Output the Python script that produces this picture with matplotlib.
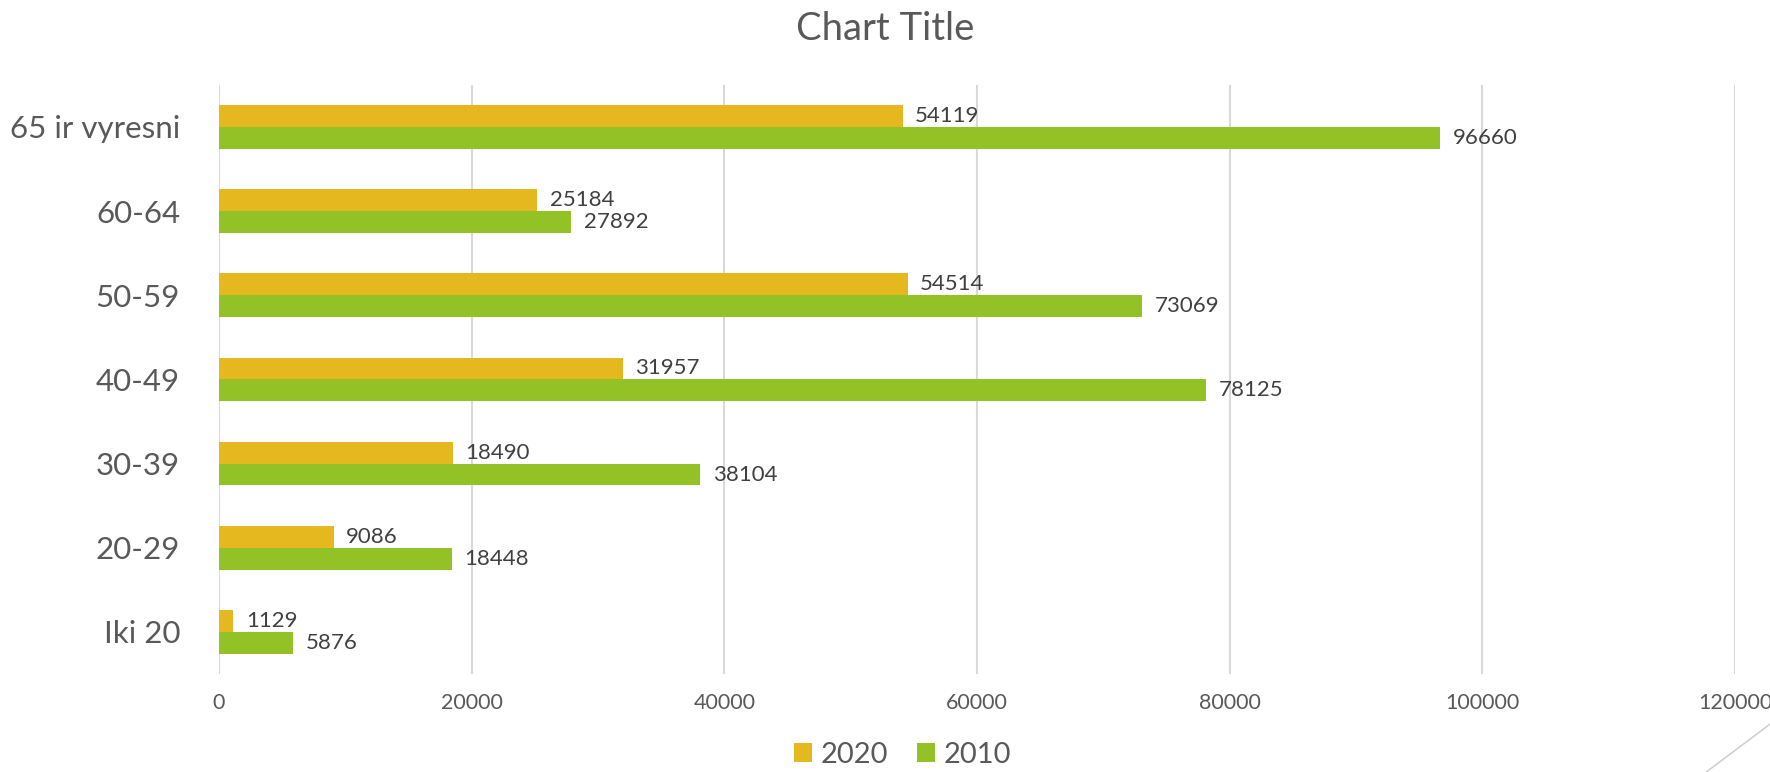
import numpy as np
import matplotlib.pyplot as plt
from matplotlib.lines import Line2D

plt.rcParams['font.family'] = ['Lato', 'DejaVu Sans']

# data
categories = ["Iki 20", "20-29", "30-39", "40-49", "50-59", "60-64", "65 ir vyresni"]
v2020 = [1129, 9086, 18490, 31957, 54514, 25184, 54119]
v2010 = [5876, 18448, 38104, 78125, 73069, 27892, 96660]
xticks = [0, 20000, 40000, 60000, 80000, 100000, 120000]

gold = '#E5B81F'
green = '#92C226'
txt = '#595959'

fig = plt.figure(figsize=(17.7, 7.72), dpi=100)
ax = fig.add_axes([0.1237, 0.127, 0.8565, 0.763])

y = np.arange(len(categories))
h = 0.26
b1 = ax.barh(y + h/2, v2020, height=h, color=gold, label='2020', zorder=3)
b2 = ax.barh(y - h/2, v2010, height=h, color=green, label='2010', zorder=3)

ax.bar_label(b1, padding=9, fontsize=16, color='#404040')
ax.bar_label(b2, padding=9, fontsize=16, color='#404040')

ax.set_xlim(0, 120000)
ax.set_ylim(-0.5, len(categories) - 0.5)
ax.set_xticks(xticks)
ax.set_xticklabels([str(t) for t in xticks])
ax.set_yticks(y)
ax.set_yticklabels(categories)
ax.tick_params(axis='y', length=0, pad=28, labelsize=22.5, labelcolor=txt)
ax.tick_params(axis='x', length=0, pad=14, labelsize=15.5, labelcolor=txt)
ax.grid(axis='x', color='#D9D9D9', linewidth=1.5, zorder=0)
for s in ax.spines.values():
    s.set_visible(False)

fig.text(0.5, 0.963, 'Chart Title', ha='center', va='center', fontsize=27.5, color=txt)

fig.legend(handles=[b1, b2], labels=['2020', '2010'], loc='center',
           bbox_to_anchor=(0.51, 0.022), ncol=2, frameon=False,
           fontsize=21, labelcolor=txt, handlelength=0.6, handleheight=0.6,
           handletextpad=0.3, columnspacing=1.0)

# decorative slide line bottom right
fig.add_artist(Line2D([0.964, 1.0], [0.0, 0.062], color='#D0D0D0', linewidth=1.2))

fig.savefig('out.png', dpi=100)
